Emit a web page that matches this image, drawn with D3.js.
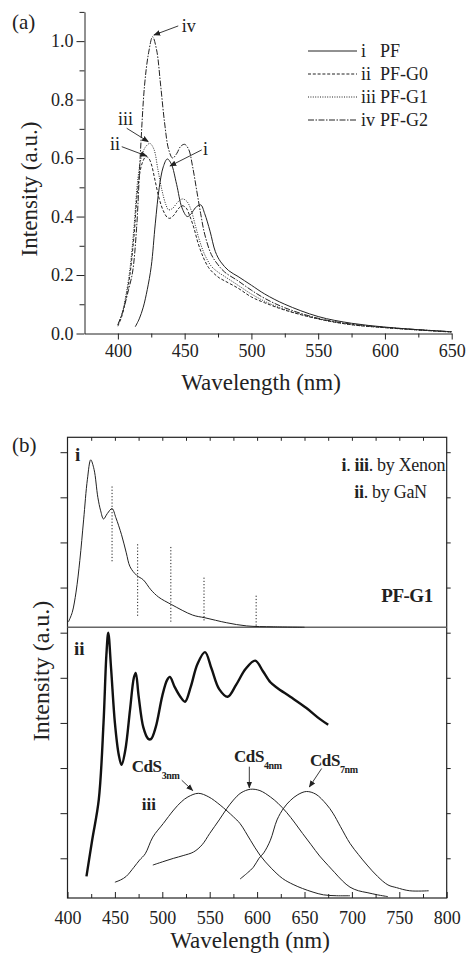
<!DOCTYPE html>
<html>
<head>
<meta charset="utf-8">
<script src="https://cdn.jsdelivr.net/npm/d3@7"></script>
<style>
body { margin: 0; background: #fff; }
svg { display: block; font-family: "Liberation Serif", "Times New Roman", serif; }
</style>
</head>
<body>
<svg width="467" height="953"></svg>
<script>
// panel (a): PL spectra, wavelength (nm) / intensity (a.u.)
const pfWl   = [413, 416, 419, 422, 425, 428, 431, 434, 437, 440, 444, 448, 452, 455, 458, 462, 465, 469, 473, 477, 483, 490, 500, 510, 525, 550, 575, 600, 625, 650];
const pfVal  = [0.023, 0.05, 0.09, 0.15, 0.23, 0.375, 0.5, 0.57, 0.597, 0.58, 0.51, 0.43, 0.4, 0.41, 0.43, 0.44, 0.41, 0.35, 0.28, 0.245, 0.215, 0.195, 0.165, 0.135, 0.1, 0.058, 0.035, 0.022, 0.013, 0.006];
const g0Wl   = [400, 403, 406, 409, 412, 415, 418, 421, 423, 425, 428, 431, 434, 437, 439, 442, 445, 448, 451, 454, 457, 460, 464, 468, 472, 476, 480, 490, 500, 510, 525, 550, 575, 600, 625, 650];
const g0Val  = [0.025, 0.06, 0.12, 0.2, 0.33, 0.5, 0.58, 0.605, 0.6, 0.58, 0.52, 0.46, 0.42, 0.397, 0.394, 0.405, 0.425, 0.437, 0.43, 0.4, 0.36, 0.31, 0.26, 0.225, 0.205, 0.19, 0.18, 0.155, 0.125, 0.105, 0.08, 0.05, 0.03, 0.02, 0.012, 0.005];
const g1Wl   = [400, 403, 406, 409, 412, 415, 418, 421, 424, 427, 430, 433, 436, 438, 441, 444, 447, 449, 452, 455, 458, 461, 465, 470, 475, 480, 490, 500, 510, 525, 550, 575, 600, 625, 650];
const g1Val  = [0.03, 0.065, 0.13, 0.22, 0.36, 0.53, 0.61, 0.64, 0.65, 0.63, 0.56, 0.49, 0.44, 0.423, 0.428, 0.445, 0.458, 0.46, 0.45, 0.42, 0.37, 0.32, 0.27, 0.23, 0.21, 0.195, 0.165, 0.135, 0.11, 0.082, 0.05, 0.03, 0.02, 0.012, 0.005];
const g2Wl   = [400, 404, 408, 411, 414, 417, 420, 423, 426, 429, 432, 435, 438, 441, 444, 447, 450, 453, 456, 459, 462, 465, 470, 475, 480, 490, 500, 510, 525, 550, 575, 600, 625, 650];
const g2Val  = [0.03, 0.08, 0.15, 0.21, 0.36, 0.63, 0.85, 0.96, 1.015, 0.97, 0.85, 0.72, 0.63, 0.6, 0.615, 0.64, 0.647, 0.63, 0.57, 0.49, 0.41, 0.34, 0.27, 0.235, 0.21, 0.18, 0.148, 0.12, 0.088, 0.052, 0.032, 0.021, 0.013, 0.006];
const legendNum  = ["i", "ii", "iii", "iv"];
const legendName = ["PF", "PF-G0", "PF-G1", "PF-G2"];
const ticksA_y = [0, 0.2, 0.4, 0.6, 0.8, 1.0];
const ticksA_x = [400, 450, 500, 550, 600, 650];

// panel (b): stacked spectra, intensity in arbitrary units of the frame
const xenWl  = [401, 405, 409, 413, 417, 421, 424.5, 428, 432, 435, 438, 442, 447, 451, 457, 462, 466, 473, 480, 488, 496, 510, 532, 545, 568, 589, 617, 650];
const xenVal = [6.24, 6.45, 6.9, 7.6, 8.5, 9.4, 9.83, 9.62, 9.0, 8.7, 8.52, 8.64, 8.75, 8.55, 8.17, 7.77, 7.46, 7.27, 7.17, 6.95, 6.79, 6.62, 6.39, 6.33, 6.22, 6.15, 6.13, 6.12];
const ganWl  = [420, 426, 433, 438, 441, 443, 446, 450, 454, 457, 461, 466, 470, 472, 475, 480, 485, 488, 493, 500, 505, 508, 513, 519, 524, 530, 537, 545, 552, 560, 569, 578, 588, 598, 606, 614, 621, 635, 652, 666, 675];
const ganVal = [0.6, 1.4, 2.3, 4.0, 5.5, 6.0, 5.2, 4.0, 3.3, 3.07, 3.4, 4.3, 5.0, 5.11, 4.6, 3.9, 3.65, 3.64, 3.9, 4.6, 4.95, 5.02, 4.8, 4.58, 4.47, 4.8, 5.3, 5.57, 5.2, 4.75, 4.58, 4.85, 5.2, 5.38, 5.15, 4.9, 4.78, 4.58, 4.33, 4.09, 3.96];
const cds3Wl  = [450, 456, 462, 470, 476, 482, 490, 501, 512, 520, 527, 538, 549, 561, 575, 582, 593, 603, 615, 627, 638, 648, 659, 670, 684, 698];
const cds3Val = [0.47, 0.52, 0.6, 0.8, 0.96, 1.1, 1.47, 1.77, 2.07, 2.25, 2.36, 2.44, 2.36, 2.18, 1.92, 1.77, 1.4, 1.07, 0.78, 0.55, 0.42, 0.33, 0.25, 0.19, 0.17, 0.17];
const cds4Wl  = [490, 500, 512, 522, 533, 542, 550, 560, 568, 575, 583, 593, 603, 614, 622, 631, 640, 648, 657, 666, 675, 682, 690, 698, 707, 716, 727, 738];
const cds4Val = [0.85, 0.92, 1.0, 1.06, 1.14, 1.3, 1.55, 1.85, 2.1, 2.29, 2.45, 2.53, 2.5, 2.36, 2.22, 2.02, 1.78, 1.55, 1.3, 1.05, 0.84, 0.68, 0.5, 0.36, 0.28, 0.24, 0.19, 0.15];
const cds7Wl  = [582, 590, 596, 602, 607, 614, 621, 628, 635, 643, 652, 662, 673, 680, 688, 698, 707, 716, 727, 738, 747, 761, 781];
const cds7Val = [0.54, 0.68, 0.8, 1.0, 1.12, 1.4, 1.85, 2.11, 2.28, 2.41, 2.48, 2.42, 2.2, 2.0, 1.7, 1.33, 1.08, 0.85, 0.6, 0.41, 0.35, 0.28, 0.28];
// dotted vibronic markers on curve i
const dotWl  = [447, 474, 509, 544, 599];
const dotTop = [9.24, 7.96, 7.90, 7.22, 6.82];
const dotBot = [7.57, 6.36, 6.22, 6.25, 6.15];
const baseI = 6.12; // divider between sub-panels i and ii
const ticksB_x = [400, 450, 500, 550, 600, 650, 700, 750, 800];
const ticksB_y = [1, 2, 3, 4, 5, 6, 7, 8, 9, 10];

const ink = "#222";
const svg = d3.select("svg");
const zip = (w, v) => w.map((d, i) => [d, v[i]]);

// ---------- panel (a) ----------
const xA = d3.scaleLinear().domain([375, 650]).range([84.5, 451.7]);
const yA = d3.scaleLinear().domain([0, 1.1]).range([333.5, 11.9]);
const gA = svg.append("g");

function styleAxis(g, size) {
  g.selectAll("path").attr("stroke", ink);
  g.selectAll("line").attr("stroke", ink);
  g.selectAll("text").attr("fill", ink).style("font-size", size + "px").style("font-family", "Liberation Serif");
}

gA.append("g").attr("transform", `translate(${xA(375)},0)`)
  .call(d3.axisLeft(yA).tickValues(ticksA_y).tickFormat(d3.format(".1f")).tickSize(8).tickSizeOuter(0).tickPadding(3))
  .call(g => styleAxis(g, 18));
gA.append("g").attr("transform", `translate(${xA(375)},0)`)
  .call(d3.axisLeft(yA).tickValues(d3.range(0.1, 1.15, 0.2)).tickFormat("").tickSize(5).tickSizeOuter(0))
  .call(g => { g.select(".domain").remove(); styleAxis(g, 18); });
gA.append("g").attr("transform", `translate(0,${yA(0)})`)
  .call(d3.axisBottom(xA).tickValues(ticksA_x).tickSize(6).tickSizeOuter(0).tickPadding(5))
  .call(g => styleAxis(g, 18));
gA.append("g").attr("transform", `translate(0,${yA(0)})`)
  .call(d3.axisBottom(xA).tickValues(d3.range(425, 650, 50)).tickFormat("").tickSize(4).tickSizeOuter(0))
  .call(g => { g.select(".domain").remove(); styleAxis(g, 18); });

const lineA = d3.line().x(d => xA(d[0])).y(d => yA(d[1])).curve(d3.curveCatmullRom.alpha(0.5));
const seriesA = [
  { data: zip(pfWl, pfVal), dash: null },
  { data: zip(g0Wl, g0Val), dash: "3,1.8" },
  { data: zip(g1Wl, g1Val), dash: "1,1.4" },
  { data: zip(g2Wl, g2Val), dash: "6,1.5,1.5,1.5" }
];
gA.selectAll("path.spec").data(seriesA).join("path")
  .attr("class", "spec")
  .attr("d", d => lineA(d.data))
  .attr("fill", "none").attr("stroke", ink).attr("stroke-width", 1)
  .attr("stroke-dasharray", d => d.dash);

// legend
const leg = gA.append("g");
seriesA.forEach((s, i) => {
  const y = 51 + i * 23;
  leg.append("line").attr("x1", 308).attr("x2", 357).attr("y1", y).attr("y2", y)
    .attr("stroke", ink).attr("stroke-width", 1).attr("stroke-dasharray", s.dash);
  leg.append("text").attr("x", 361).attr("y", y + 5.5).text(legendNum[i])
    .attr("fill", ink).style("font-size", "18px");
  leg.append("text").attr("x", 380).attr("y", y + 5.5).text(legendName[i])
    .attr("fill", ink).style("font-size", "18px");
});

// arrow marker
const defs = svg.append("defs");
defs.append("marker").attr("id", "arr").attr("viewBox", "0 0 10 10")
  .attr("refX", 9).attr("refY", 5).attr("markerWidth", 7).attr("markerHeight", 7)
  .attr("markerUnits", "userSpaceOnUse").attr("orient", "auto")
  .append("path").attr("d", "M0,1 L10,5 L0,9 Z").attr("fill", ink);

function arrow(g, xs, ys, a, b) {
  g.append("line")
    .attr("x1", xs(a[0])).attr("y1", ys(a[1])).attr("x2", xs(b[0])).attr("y2", ys(b[1]))
    .attr("stroke", ink).attr("stroke-width", 0.9).attr("marker-end", "url(#arr)");
}
const notesA = [
  { t: "iv", at: [447.8, 1.031], from: [445.2, 1.052], to: [427.0, 1.021] },
  { t: "iii", at: [400.1, 0.713], from: [406.6, 0.702], to: [422.8, 0.656] },
  { t: "ii", at: [394.1, 0.628], from: [402.9, 0.639], to: [421.6, 0.607] },
  { t: "i", at: [463.7, 0.611], from: [462.8, 0.628], to: [439.0, 0.573] }
];
notesA.forEach(n => {
  gA.append("text").attr("x", xA(n.at[0])).attr("y", yA(n.at[1])).text(n.t)
    .attr("fill", ink).style("font-size", "18px");
  arrow(gA, xA, yA, n.from, n.to);
});

gA.append("text").attr("x", 12).attr("y", 29).text("(a)").attr("fill", ink).style("font-size", "21px");
gA.append("text").attr("transform", `translate(37,189) rotate(-90)`).attr("text-anchor", "middle")
  .text("Intensity (a.u.)").attr("fill", ink).style("font-size", "23px");
gA.append("text").attr("x", 261).attr("y", 390).attr("text-anchor", "middle")
  .text("Wavelength (nm)").attr("fill", ink).style("font-size", "23px");

// ---------- panel (b) ----------
const xB = d3.scaleLinear().domain([400, 800]).range([67.5, 446.7]);
const yB = d3.scaleLinear().domain([0.12, 10.33]).range([898, 437.3]);
const gB = svg.append("g");

gB.append("rect").attr("x", xB(400)).attr("y", yB(10.33))
  .attr("width", xB(800) - xB(400)).attr("height", yB(0.12) - yB(10.33))
  .attr("fill", "none").attr("stroke", ink).attr("stroke-width", 1.2);

gB.append("g").attr("transform", `translate(0,${yB(0.12)})`)
  .call(d3.axisBottom(xB).tickValues(ticksB_x).tickSize(-6).tickSizeOuter(0).tickPadding(13))
  .call(g => { g.select(".domain").remove(); styleAxis(g, 18); });
gB.append("g").attr("transform", `translate(0,${yB(0.12)})`)
  .call(d3.axisBottom(xB).tickValues(d3.range(425, 800, 50)).tickFormat("").tickSize(-4).tickSizeOuter(0))
  .call(g => { g.select(".domain").remove(); styleAxis(g, 18); });
gB.append("g").attr("transform", `translate(0,${yB(10.33)})`)
  .call(d3.axisTop(xB).tickValues(d3.range(425, 800, 25)).tickFormat("").tickSize(-3.5).tickSizeOuter(0))
  .call(g => { g.select(".domain").remove(); styleAxis(g, 18); });
gB.append("g").attr("transform", `translate(${xB(400)},0)`)
  .call(d3.axisLeft(yB).tickValues(ticksB_y).tickFormat("").tickSize(7).tickSizeOuter(0))
  .call(g => { g.select(".domain").remove(); styleAxis(g, 18); });
gB.append("g").attr("transform", `translate(${xB(800)},0)`)
  .call(d3.axisRight(yB).tickValues(ticksB_y).tickFormat("").tickSize(4).tickSizeOuter(0))
  .call(g => { g.select(".domain").remove(); styleAxis(g, 18); });

// divider
gB.append("line").attr("x1", xB(400)).attr("x2", xB(800)).attr("y1", yB(baseI)).attr("y2", yB(baseI))
  .attr("stroke", "#666").attr("stroke-width", 1.5);

const lineB = d3.line().x(d => xB(d[0])).y(d => yB(d[1])).curve(d3.curveCatmullRom.alpha(0.5));
gB.append("path").attr("d", lineB(zip(xenWl, xenVal)))
  .attr("fill", "none").attr("stroke", ink).attr("stroke-width", 1);
gB.append("path").attr("d", lineB(zip(ganWl, ganVal)))
  .attr("fill", "none").attr("stroke", "#111").attr("stroke-width", 2.4);
[zip(cds3Wl, cds3Val), zip(cds4Wl, cds4Val), zip(cds7Wl, cds7Val)].forEach(d => {
  gB.append("path").attr("d", lineB(d))
    .attr("fill", "none").attr("stroke", ink).attr("stroke-width", 1);
});

gB.selectAll("line.vib").data(dotWl).join("line").attr("class", "vib")
  .attr("x1", d => xB(d)).attr("x2", d => xB(d))
  .attr("y1", (d, i) => yB(dotTop[i])).attr("y2", (d, i) => yB(dotBot[i]))
  .attr("stroke", ink).attr("stroke-width", 1).attr("stroke-dasharray", "1.2,2");

// texts in (b)
const bold = (g, x, y, t, size) => g.append("text").attr("x", x).attr("y", y).text(t)
  .attr("fill", ink).style("font-size", size + "px").style("font-weight", "bold");
bold(gB, xB(407.9), yB(9.81), "i", 19);
bold(gB, xB(406.9), yB(5.51), "ii", 19);
bold(gB, xB(478.3), yB(2.08), "iii", 17);

const t1 = gB.append("text").attr("x", xB(798.4)).attr("y", yB(9.58)).attr("text-anchor", "end")
  .attr("fill", ink).style("font-size", "18px").style("letter-spacing", "-0.3px");
t1.append("tspan").text("i").style("font-weight", "bold");
t1.append("tspan").text(". ");
t1.append("tspan").text("iii").style("font-weight", "bold");
t1.append("tspan").text(". by Xenon");
const t2 = gB.append("text").attr("x", xB(779)).attr("y", yB(8.98)).attr("text-anchor", "end")
  .attr("fill", ink).style("font-size", "18px").style("letter-spacing", "-0.3px");
t2.append("tspan").text("ii").style("font-weight", "bold");
t2.append("tspan").text(". by GaN");
bold(gB, xB(785.2), yB(6.69), "PF-G1", 19).attr("text-anchor", "end").style("letter-spacing", "-0.5px");

const cdsNotes = [
  { sub: "3nm", at: [467.7, 2.92], from: [520.5, 2.73], to: [532.1, 2.5] },
  { sub: "4nm", at: [575.6, 3.14], from: [591.8, 3.03], to: [591.8, 2.56] },
  { sub: "7nm", at: [655.8, 3.05], from: [668.1, 2.99], to: [655.1, 2.58] }
];
cdsNotes.forEach(n => {
  const t = gB.append("text").attr("x", xB(n.at[0])).attr("y", yB(n.at[1]))
    .attr("fill", ink).style("font-weight", "bold").style("font-size", "17px").style("letter-spacing", "-0.4px");
  t.append("tspan").text("CdS");
  t.append("tspan").attr("dy", 7).style("font-size", "10px").text(n.sub);
  arrow(gB, xB, yB, n.from, n.to);
});

gB.append("text").attr("x", 12).attr("y", 452).text("(b)").attr("fill", ink).style("font-size", "21px");
gB.append("text").attr("transform", `translate(48.5,671) rotate(-90)`).attr("text-anchor", "middle")
  .text("Intensity (a.u.)").attr("fill", ink).style("font-size", "24px");
gB.append("text").attr("x", 250).attr("y", 948).attr("text-anchor", "middle")
  .text("Wavelength (nm)").attr("fill", ink).style("font-size", "23px");
</script>
</body>
</html>
